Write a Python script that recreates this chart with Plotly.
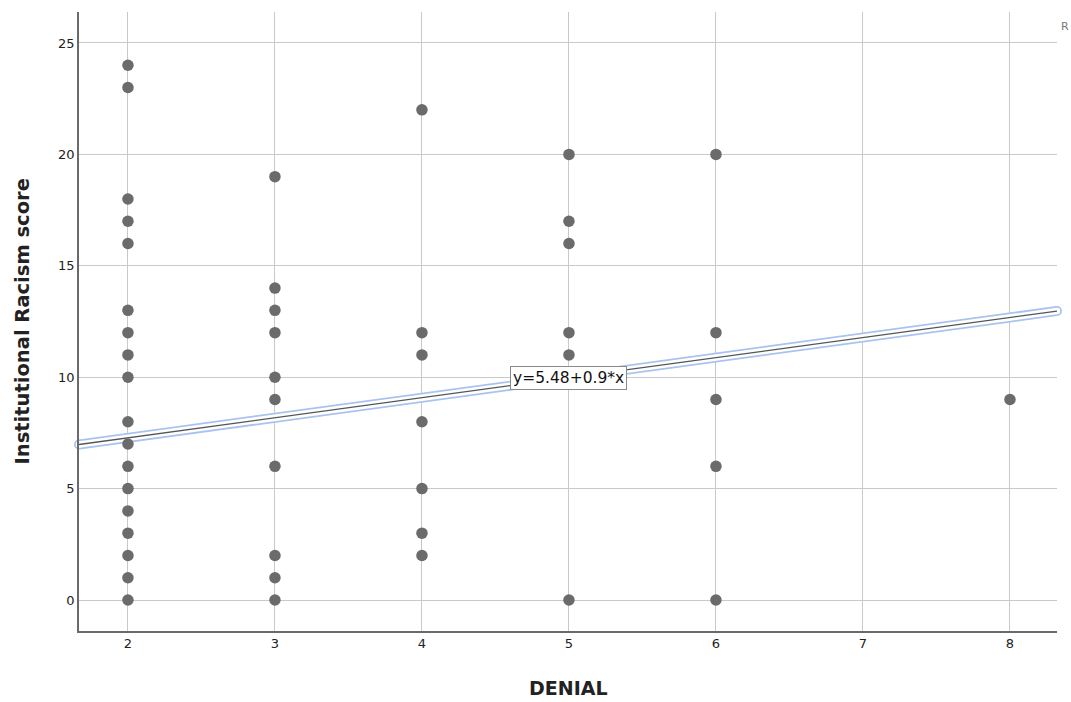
import plotly.graph_objects as go

# DENIAL score (x) and Institutional Racism score (y) per respondent
denial = [2]*18 + [3]*10 + [4]*7 + [5]*6 + [6]*5 + [8]
racism = [24, 23, 18, 17, 16, 13, 12, 11, 10, 8, 7, 6, 5, 4, 3, 2, 1, 0,
          19, 14, 13, 12, 10, 9, 6, 2, 1, 0,
          22, 12, 11, 8, 5, 3, 2,
          20, 17, 16, 12, 11, 0,
          20, 12, 9, 6, 0,
          9]

# Fit line y = a + b*x
intercept = 5.48
slope = 0.9
x_range = [1.667, 8.32]
y_range = [-1.39, 26.39]

fit_x = x_range
fit_y = [intercept + slope * v for v in fit_x]

fig = go.Figure()

# selection halo around the fit line: blue outline, white interior, grey line
fig.add_trace(go.Scatter(x=fit_x, y=fit_y, mode="lines+markers",
                         line=dict(color="#a9c3ef", width=10),
                         marker=dict(size=10, color="#a9c3ef"),
                         cliponaxis=False, hoverinfo="skip", showlegend=False))
fig.add_trace(go.Scatter(x=fit_x, y=fit_y, mode="lines+markers",
                         line=dict(color="white", width=6.5),
                         marker=dict(size=6.5, color="white"),
                         cliponaxis=False, hoverinfo="skip", showlegend=False))
fig.add_trace(go.Scatter(x=fit_x, y=fit_y, mode="lines",
                         line=dict(color="#555555", width=1.3),
                         cliponaxis=False, hoverinfo="skip", showlegend=False))

fig.add_trace(go.Scatter(x=denial, y=racism, mode="markers",
                         marker=dict(size=11.5, color="#6b6b6b"),
                         showlegend=False))

fig.add_annotation(x=5.0, y=intercept + slope * 5.0,
                   text=f"y={intercept}+{slope}*x", showarrow=False,
                   font=dict(family="DejaVu Sans", size=15.5, color="#111111"),
                   bgcolor="white", bordercolor="#8a8a8a", borderwidth=1,
                   borderpad=2)

fig.add_annotation(x=1.0, y=1.0, xref="paper", yref="paper",
                   xanchor="left", yanchor="top", xshift=2, yshift=-6,
                   text="R", showarrow=False,
                   font=dict(family="DejaVu Sans", size=11, color="#777777"))

# axis titles
fig.add_annotation(x=0.5, y=0, xref="paper", yref="paper",
                   xanchor="center", yanchor="middle", yshift=-57,
                   text="<b>DENIAL</b>", showarrow=False,
                   font=dict(family="DejaVu Sans", size=19, color="#222222"))
fig.add_annotation(x=0, y=0.5, xref="paper", yref="paper",
                   xanchor="center", yanchor="middle", xshift=-57,
                   text="<b>Institutional Racism score</b>", showarrow=False,
                   textangle=-90,
                   font=dict(family="DejaVu Sans", size=19.5, color="#222222"))

fig.update_layout(
    width=1071, height=702,
    margin=dict(l=79, r=14, t=12, b=71, autoexpand=False),
    plot_bgcolor="white", paper_bgcolor="white",
    font=dict(family="DejaVu Sans", color="#222222"),
    xaxis=dict(range=x_range, tickvals=[2, 3, 4, 5, 6, 7, 8],
               showgrid=True, gridcolor="#c9c9c9", gridwidth=1,
               zeroline=False, showline=True, linecolor="#6a6a6a", linewidth=1.5,
               ticks="", tickfont=dict(size=13, color="#222222"), automargin=False),
    yaxis=dict(range=y_range, tickvals=[0, 5, 10, 15, 20, 25],
               showgrid=True, gridcolor="#c9c9c9", gridwidth=1,
               zeroline=False, showline=True, linecolor="#6a6a6a", linewidth=1.5,
               ticks="", tickfont=dict(size=13, color="#222222"), automargin=False),
)

fig.write_html("out.html")
